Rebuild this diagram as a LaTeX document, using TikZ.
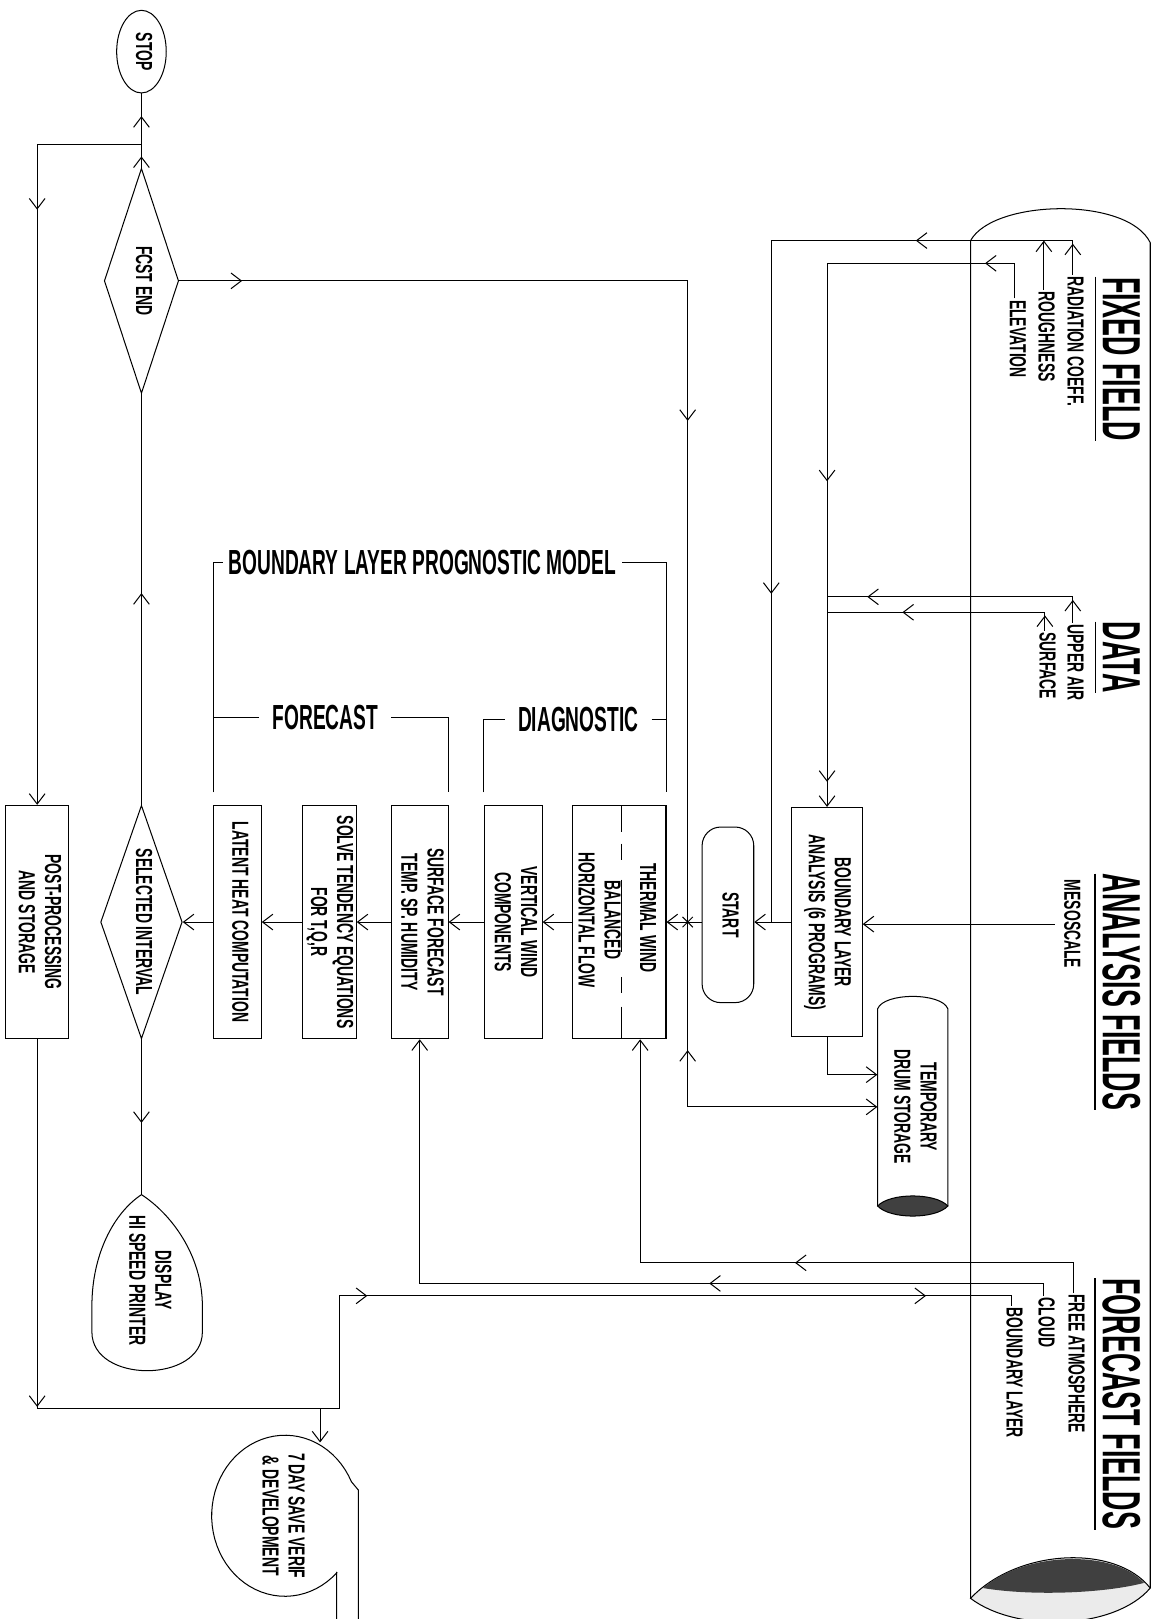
\documentclass[tikz,border=0pt]{standalone}
\usepackage{fontspec}
\usepackage{graphicx}
\usetikzlibrary{arrows.meta,positioning,shapes.geometric,decorations.markings}

\newfontfamily\headfont{Liberation Sans}[FakeStretch=0.5]
\newfontfamily\labelfont{Liberation Sans}[FakeStretch=0.55]
\newfontfamily\boxfont{Liberation Sans}[FakeStretch=0.6]
\newcommand{\vlabel}[1]{\rotatebox{-90}{\begin{tabular}{@{}c@{}}#1\end{tabular}}}

\tikzset{
  flowtip/.tip={Straight Barb[length=2.5mm,width=3.8mm]},
  flow/.style={line width=0.7pt},
  tipat/.style={postaction={decorate,decoration={markings,mark=at position #1*0.7113pt with {\arrow{flowtip}}}}},
  tipback/.style={postaction={decorate,decoration={markings,mark=at position #1*0.7113pt with {\arrowreversed{flowtip}}}}},
  box/.style={draw, line width=0.7pt, inner sep=0pt, minimum height=5.65cm},
  decision/.style={draw, diamond, aspect=0.35, line width=0.7pt, inner sep=0pt},
  lbl/.style={inner sep=1pt},
  head/.style={inner sep=0pt, font=\headfont\bfseries\fontsize{37}{40}\selectfont},
  title/.style={inner xsep=9pt, font=\labelfont\bfseries\fontsize{24}{26}\selectfont},
}

\begin{document}
\begin{tikzpicture}[x=0.025cm, y=-0.025cm, font=\boxfont\bfseries\fontsize{16}{18}\selectfont]
\fill[white] (0,0) rectangle (1117,1568);
\useasboundingbox (0,0) rectangle (1117,1568);

% fields drum on the right
\draw[flow] (940,1548) -- (940,233) .. controls (962,193) and (1092,190) .. (1114,235) -- (1114,1538);
\draw[flow, fill=black!8] (940,1548) .. controls (985,1500) and (1080,1495) .. (1114,1538) .. controls (1080,1578) and (985,1582) .. (940,1548) -- cycle;
\fill[black!75] (952,1538) .. controls (992,1503) and (1078,1500) .. (1108,1533) .. controls (1070,1543) and (1000,1546) .. (952,1538) -- cycle;

\node[head, anchor=north] (fixhead) at (1086,268) {\rotatebox{-90}{FIXED FIELD}};
\node[head, anchor=north] (datahead) at (1086,602) {\rotatebox{-90}{DATA}};
\node[head, anchor=north] (anahead) at (1086,846) {\rotatebox{-90}{ANALYSIS FIELDS}};
\node[head, anchor=north] (fcsthead) at (1086,1238) {\rotatebox{-90}{FORECAST FIELDS}};
\foreach \h in {fixhead,datahead,anahead,fcsthead}
  \draw[line width=1.2pt] ([xshift=-0.17cm]\h.north west) -- ([xshift=-0.17cm]\h.south west);

\node[lbl, anchor=north] (radtxt) at (1039,266) {\vlabel{RADIATION COEFF.}};
\node[lbl, anchor=north] (roughtxt) at (1011,281) {\vlabel{ROUGHNESS}};
\node[lbl, anchor=north] (elevtxt) at (983,289) {\vlabel{ELEVATION}};
\node[lbl, anchor=north] (uatxt) at (1039,603) {\vlabel{UPPER AIR}};
\node[lbl, anchor=north] (sfctxt) at (1012,611) {\vlabel{SURFACE}};
\node[lbl] (mesotxt) at (1036,895) {\vlabel{MESOSCALE}};
\node[lbl, anchor=north] (fatxt) at (1040,1252) {\vlabel{FREE ATMOSPHERE}};
\node[lbl, anchor=north] (cldtxt) at (1011,1255) {\vlabel{CLOUD}};
\node[lbl, anchor=north] (bltxt) at (980,1265) {\vlabel{BOUNDARY LAYER}};

% flow chart
\node[draw, ellipse, line width=0.7pt, inner sep=0pt, minimum width=1.2cm, minimum height=2cm] (stop) at (137,50) {\vlabel{STOP}};
\node[decision, minimum width=1.8cm, minimum height=5.45cm] (fcstend) at (137,272) {\vlabel{FCST END}};
\node[decision, minimum width=1.975cm, minimum height=5.65cm] (selint) at (137,893) {\vlabel{SELECTED INTERVAL}};
\node[box, minimum width=1.525cm] (post) at (36,893) {\vlabel{POST-PROCESSING\\AND STORAGE}};
\node[box, minimum width=1.15cm] (latent) at (230,893) {\vlabel{LATENT HEAT COMPUTATION}};
\node[box, minimum width=1.3cm] (solve) at (319,893) {\vlabel{SOLVE TENDENCY EQUATIONS\\FOR T,Q,R}};
\node[box, minimum width=1.375cm] (surf) at (406.5,893) {\vlabel{SURFACE FORECAST\\TEMP. SP. HUMIDITY}};
\node[box, minimum width=1.4cm] (vert) at (497,893) {\vlabel{VERTICAL WIND\\COMPONENTS}};
\node[box, minimum width=2.275cm] (thermal) at (599.5,893) {};
\node[lbl] (twind) at (625,889) {\vlabel{THERMAL WIND}};
\node[lbl] (bhflow) at (578,891) {\vlabel{BALANCED\\HORIZONTAL FLOW}};
\foreach \a/\b in {780/806, 817/833, 852/922, 946/962, 975/1006}
  \draw[flow] (602,\a) -- (602,\b);
\node[draw, line width=0.7pt, rounded corners=0.45cm, inner sep=0pt, minimum width=1.25cm, minimum height=4.25cm] (start) at (705,886) {\vlabel{START}};
\node[box, minimum width=1.7cm, minimum height=5.55cm] (blana) at (801,893) {\vlabel{BOUNDARY LAYER\\ANALYSIS (6 PROGRAMS)}};

% temporary drum
\node[inner sep=0pt, minimum width=1.7cm, minimum height=4.9cm] (drum) at (884,1072) {\vlabel{TEMPORARY\\DRUM STORAGE}};
\draw[flow] (850,1168) -- (850,977) .. controls (856,961) and (912,961) .. (918,977) -- (918,1168);
\draw[flow, fill=black!75] (850,1168) .. controls (862,1155) and (906,1155) .. (918,1168) .. controls (906,1181) and (862,1181) .. (850,1168) -- cycle;

% outputs
\coordinate (disptip) at (137,1157);
\node[lbl] (disp) at (143,1240) {\vlabel{DISPLAY\\HI SPEED PRINTER}};
\draw[flow] (disptip) .. controls (165,1175) and (196,1215) .. (196,1265) -- (196,1290) .. controls (196,1340) and (89,1340) .. (89,1290) -- (89,1265) .. controls (89,1215) and (110,1175) .. (disptip);
\node[lbl] (weekly) at (272,1468) {\vlabel{7 DAY SAVE VERIF\\\& DEVELOPMENT}};
\draw[flow] (326,1568) -- (326,1523) -- plot[domain=45:335, samples=60, variable=\a] ({276+71*cos(\a)},{1468+78*sin(\a)}) -- (347,1443) -- (347,1568);

% model brackets
\node[title, inner xsep=4pt] (blpm) at (409,545) {BOUNDARY LAYER PROGNOSTIC MODEL};
\node[title] (fclab) at (315,695) {FORECAST};
\node[title] (dglab) at (560,697) {DIAGNOSTIC};
\draw[flow] ([yshift=0.3cm]latent.north west) |- (blpm.west);
\draw[flow] (blpm.east) -| ([yshift=0.3cm]thermal.north east);
\draw[flow] (fclab.west) -- (fclab.west -| latent.north west);
\draw[flow] (fclab.east) -| ([yshift=0.3cm]surf.north east);
\draw[flow] ([yshift=0.3cm]vert.north west) |- (dglab.west);
\draw[flow] (dglab.east) -- (dglab.east -| thermal.north east);

% inputs from the fields
\coordinate (radtop) at (747,233);
\draw[flow, tipat=30, tipat=185, tipat=667] (radtxt.north) |- (radtop) -- (radtop |- blana.west);
\draw[flow, -flowtip] (roughtxt.north) -- (roughtxt.north |- radtop);
\coordinate (elevtop) at (801,255);
\draw[flow, tipat=63, tipat=427, tipat=718, -flowtip] (elevtxt.north) |- (elevtop) -- (blana.north);
\coordinate (uacorner) at (801,578);
\draw[flow, tipat=22, tipat=224] (uatxt.north) |- (uacorner);
\coordinate (sfccorner) at (801,593);
\draw[flow, tipat=15, tipat=156] (sfctxt.north) |- (sfccorner);
\draw[flow, -flowtip] (mesotxt.west) -- (mesotxt.west -| blana.east);

% main chain
\draw[flow, -flowtip] (blana.west) -- (blana.west -| start.east);
\draw[flow, -flowtip] (start.west |- thermal.east) -- (thermal.east);
\draw[flow, -flowtip] (thermal.west) -- (vert.east);
\draw[flow, -flowtip] (vert.west) -- (surf.east);
\draw[flow, -flowtip] (surf.west) -- (solve.east);
\draw[flow, -flowtip] (solve.west) -- (latent.east);
\draw[flow, -flowtip] (latent.west) -- (selint.east);
\draw[flow, tipat=205] (selint.north) -- (fcstend.south);
\draw[flow, tipat=81] (selint.south) -- (disptip);
\draw[flow, tipat=11, tipat=50] (fcstend.north) -- (stop.south);
\coordinate (loopjoin) at (137,140);
\draw[flow, tipat=164, -flowtip] (loopjoin) -| (post.north);

\coordinate (xjoin) at (666,893);
\draw[flow, tipat=61, tipat=628] (fcstend.east) -| (xjoin);
\draw[flow] (xjoin) +(-5,-5) -- +(5,5) (xjoin) +(-5,5) -- +(5,-5);
\draw[flow, tipback=124, -flowtip] (xjoin) |- (drum.west);
\draw[flow, -flowtip] (blana.south) |- ([yshift=0.78cm]drum.west);

% forecast fields back into the model
\coordinate (facorner) at (620,1223);
\draw[flow, tipat=299, -flowtip] (fatxt.north) |- (facorner) -- (facorner |- thermal.south);
\coordinate (cldcorner) at (406.5,1243);
\draw[flow, tipat=336, -flowtip] (cldtxt.north) |- (cldcorner) -- (surf.south);
\coordinate (blturn) at (329,1364);
\coordinate (blup) at (329,1255);
\draw[flow, tipat=356, tipat=786, tipat=1327] (post.south) |- (blturn) -- (blup) -| (bltxt.north);
\coordinate (wkjoin) at (310,1364);
\coordinate (wkin) at (310,1397);
\draw[flow, -flowtip] (wkjoin) -- (wkin);
\end{tikzpicture}
\end{document}
